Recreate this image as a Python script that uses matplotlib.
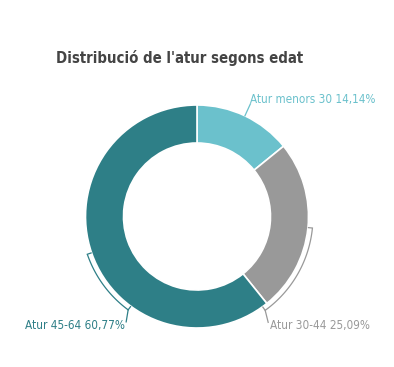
import numpy as np
import matplotlib.pyplot as plt
from matplotlib import font_manager
from matplotlib.font_manager import FontProperties

names = ["Atur menors 30", "Atur 30-44", "Atur 45-64"]
values = [14.14, 25.09, 60.77]
colors = ["#6bc1cc", "#999999", "#2e7f87"]
title = "Distribució de l'atur segons edat"

# look for a narrow face, else fall back to Roboto
reg_file = bold_file = None
for f in font_manager.fontManager.ttflist:
    fn = f.fname.replace(" ", "")
    if "SansNarrow" in fn or "SansCondensed" in fn or "Condensed" in fn:
        if f.weight in ("bold", 700) or "Bold" in fn:
            if "Oblique" not in fn and "Italic" not in fn:
                bold_file = bold_file or f.fname
        elif "Oblique" not in fn and "Italic" not in fn:
            reg_file = reg_file or f.fname
lab_fp = FontProperties(fname=reg_file) if reg_file else FontProperties(family="Roboto")
tit_fp = FontProperties(fname=bold_file) if bold_file else FontProperties(family="Roboto", weight="bold")

W, H = 394, 367
fig = plt.figure(figsize=(W / 100, H / 100), dpi=100)
ax = fig.add_axes([0, 0, 1, 1])

cx, cy = 197, H - 216.5
R = 111.5
ax.pie(values, colors=colors, startangle=90, counterclock=False,
       center=(cx, cy), radius=R,
       wedgeprops=dict(width=38, edgecolor="white", linewidth=1.2))
ax.set_xlim(0, W)
ax.set_ylim(0, H)
ax.set_aspect("equal")
ax.axis("off")

renderer = fig.canvas.get_renderer()


def fit(t, width):
    # scale the font so the text is as wide as in the reference
    t.set_fontsize(10)
    w = t.get_window_extent(renderer).width
    t.set_fontsize(10 * width / w)


def pt(ang, r):
    # ang: degrees clockwise from top
    a = np.radians(ang)
    return cx + r * np.sin(a), cy + r * np.cos(a)


def bracket(a0, a1, col):
    t = np.linspace(a0, a1, 60)
    xs, ys = pt(t, R + 4.5)
    ax.plot(xs, ys, color=col, lw=0.9, solid_capstyle="butt")
    for a in (a0, a1):
        x0, y0 = pt(a, R + 4.5)
        x1, y1 = pt(a, R + 0.5)
        ax.plot([x0, x1], [y0, y1], color=col, lw=0.9)


def label(i):
    return f"{names[i]} {values[i]:.2f}%".replace(".", ",")


cum = np.cumsum([0] + values) / 100 * 360
mid0 = (cum[0] + cum[1]) / 2

# first slice: short leader
x0, y0 = pt(mid0, R)
ax.plot([x0, x0 + 5.5], [y0, y0 + 12], color=colors[0], lw=0.9)
t = ax.text(x0 + 5, y0 + 16, label(0), color=colors[0], fontproperties=lab_fp,
            ha="left", va="center")
fit(t, 124)

# second slice: bracket on the right
bracket(95.7, 144, colors[1])
bx, by = pt(144, R + 4.5)
ax.plot([bx, bx + 3], [by, by - 12], color=colors[1], lw=0.9)
t = ax.text(bx + 5, by - 15, label(1), color=colors[1], fontproperties=lab_fp,
            ha="left", va="center")
fit(t, 100)

# third slice: bracket on the left
bracket(216.4, 251, colors[2])
bx, by = pt(216.4, R + 4.5)
ax.plot([bx, bx - 2], [by, by - 12], color=colors[2], lw=0.9)
t = ax.text(bx - 3, by - 16, label(2), color=colors[2], fontproperties=lab_fp,
            ha="right", va="center")
fit(t, 100)

t = fig.text(180 / W, 1 - 58 / H, title, color="#444444", fontproperties=tit_fp,
             ha="center", va="center")
fit(t, 246)

fig.savefig("out.png", dpi=100, facecolor="white")
